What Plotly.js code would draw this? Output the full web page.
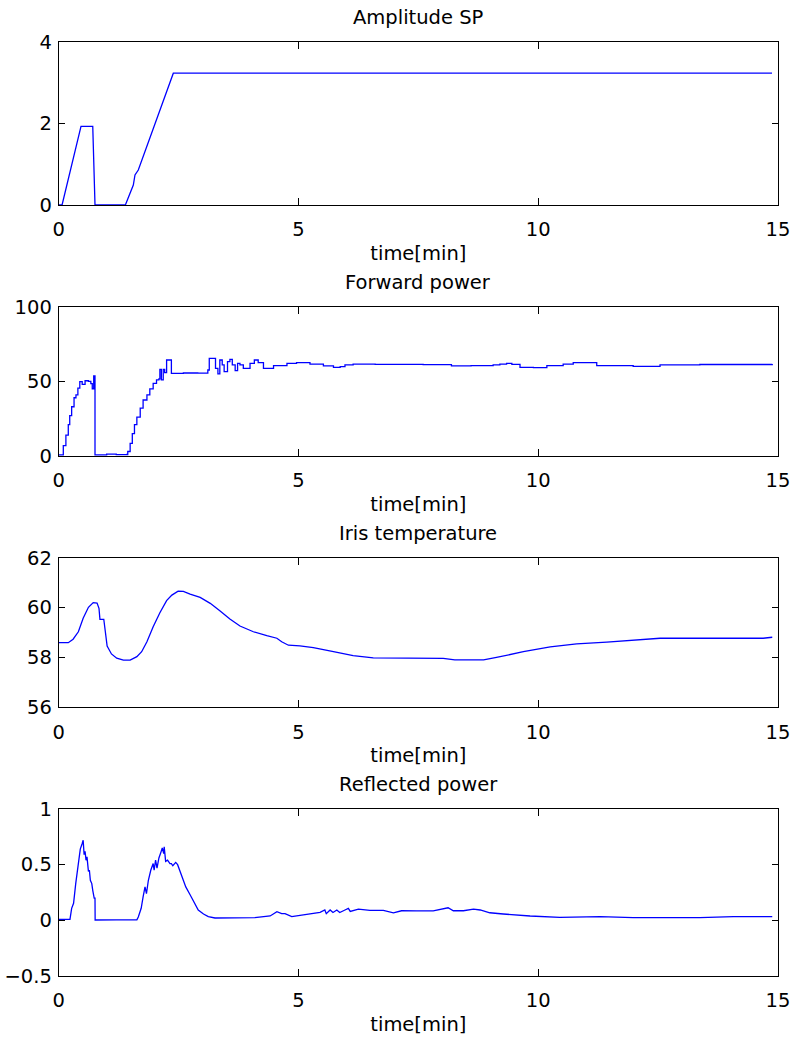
<!DOCTYPE html>
<html>
<head>
<meta charset="utf-8">
<script src="https://cdn.plot.ly/plotly-3.0.1.min.js"></script>
<style>
  html, body { margin: 0; padding: 0; background: #ffffff; }
  #chart { width: 796px; height: 1037px; }
</style>
</head>
<body>
<div id="chart"></div>
<script>
// Cavity conditioning run: four signals against time in minutes.

const panelTitles = ["Amplitude SP", "Forward power", "Iris temperature", "Reflected power"];
const timeLabel = "time[min]";
const timeTicks = [0, 5, 10, 15];

// Amplitude set point
const ampTime = [0, 0.07, 0.465, 0.71, 0.757, 1.39, 1.556, 1.591, 1.66, 2.39, 14.875];
const ampSP   = [0, 0, 1.935, 1.935, 0, 0, 0.49, 0.74, 0.86, 3.24, 3.24];
const ampTicks = [0, 2, 4];

// Forward power (sampled, held between samples)
const fwdTime = [0, 0.096, 0.15, 0.2, 0.23, 0.27, 0.32, 0.36, 0.40, 0.44, 0.49, 0.55, 0.62, 0.67, 0.70, 0.73,
  0.757, 1.0, 1.2, 1.42, 1.44, 1.49, 1.535, 1.58, 1.63, 1.70, 1.76, 1.84, 1.90, 1.97, 2.04, 2.09, 2.11, 2.14,
  2.18, 2.21, 2.25, 2.35, 2.6, 2.9, 3.11, 3.14, 3.16, 3.27, 3.32, 3.36, 3.41, 3.45, 3.52, 3.57, 3.62, 3.68,
  3.73, 3.78, 3.85, 3.99, 4.08, 4.16, 4.27, 4.48, 4.76, 4.96, 5.24, 5.52, 5.73, 5.87, 5.97, 6.14, 6.6, 7.12,
  7.6, 8.19, 8.6, 9.06, 9.2, 9.34, 9.45, 9.62, 9.9, 10.18, 10.52, 10.73, 11.22, 11.98, 12.54, 13.37, 14.63, 14.88];
const fwdPower = [0.7, 7, 14, 21, 27, 33, 39, 41, 45.5, 49.8, 48, 50.4, 50, 48.5, 45, 53.6,
  0.8, 1.2, 0.9, 1.0, 3, 8.5, 15, 21, 26, 32, 37.5, 41, 45, 48.7, 51, 51.7, 58, 51,
  58, 55.8, 64.3, 55.3, 55.6, 55.5, 57.6, 65.4, 65.4, 58.7, 55, 64.3, 61, 56.5, 63.2, 64.7, 61, 57.2,
  62, 61, 58.7, 62, 64.3, 62.5, 58.7, 60.5, 62, 62.5, 61.6, 60.3, 59.4, 59.8, 61, 61.6, 61.4, 61.4,
  61.2, 60.3, 60.5, 61, 61.6, 62, 61.4, 59.4, 59.2, 60.5, 61.6, 62.5, 60.5, 60, 61, 61.3, 61.3, 61.6];
const fwdTicks = [0, 50, 100];

// Iris temperature
const irisTime = [0, 0.2, 0.30, 0.41, 0.51, 0.62, 0.72, 0.80, 0.84, 0.86, 0.94, 0.97, 1.01, 1.10, 1.21, 1.35,
  1.49, 1.63, 1.73, 1.84, 1.97, 2.11, 2.25, 2.36, 2.49, 2.6, 2.74, 2.95, 3.16, 3.36, 3.57, 3.78, 4.06, 4.34,
  4.55, 4.65, 4.79, 5.03, 5.31, 5.73, 6.14, 6.56, 7.12, 8.02, 8.26, 8.86, 9.13, 9.69, 10.25, 10.80, 11.43,
  11.98, 12.54, 13.37, 14.69, 14.88];
const irisTemp = [58.59, 58.59, 58.73, 59.03, 59.57, 60.01, 60.2, 60.18, 59.97, 59.53, 59.53, 58.97, 58.46, 58.14, 57.97, 57.89,
  57.89, 58.03, 58.23, 58.63, 59.23, 59.79, 60.28, 60.5, 60.66, 60.65, 60.54, 60.41, 60.17, 59.87, 59.54, 59.26, 59.03, 58.87,
  58.77, 58.63, 58.49, 58.46, 58.39, 58.23, 58.07, 57.98, 57.97, 57.96, 57.9, 57.9, 58.0, 58.23, 58.42, 58.54, 58.61,
  58.7, 58.77, 58.77, 58.77, 58.81];
const irisTicks = [56, 58, 60, 62];

// Reflected power
const reflTime = [0, 0.235, 0.27, 0.31, 0.355, 0.41, 0.45, 0.49, 0.51, 0.53, 0.55, 0.57, 0.59, 0.62, 0.64, 0.66,
  0.69, 0.71, 0.74, 0.757, 0.76, 1.2, 1.63, 1.66, 1.72, 1.76, 1.80, 1.83, 1.87, 1.92, 1.97, 1.99, 2.02, 2.05,
  2.09, 2.13, 2.16, 2.19, 2.20, 2.23, 2.27, 2.32, 2.35, 2.38, 2.44, 2.48, 2.56, 2.65, 2.74, 2.83, 2.91, 3.02,
  3.12, 3.26, 3.57, 4.09, 4.41, 4.55, 4.65, 4.72, 4.86, 5.17, 5.45, 5.55, 5.58, 5.66, 5.72, 5.8, 5.86, 5.97,
  6.04, 6.08, 6.25, 6.49, 6.77, 6.98, 7.15, 7.46, 7.81, 8.12, 8.23, 8.44, 8.65, 8.79, 8.99, 9.27, 9.55, 9.83,
  10.45, 11.29, 11.98, 13.37, 14.07, 14.88];
const reflPower = [0.009, 0.009, 0.108, 0.153, 0.33, 0.53, 0.64, 0.69, 0.72, 0.59, 0.62, 0.54, 0.57, 0.44, 0.45, 0.36,
  0.33, 0.27, 0.2, 0.2, 0.003, 0.004, 0.004, 0.03, 0.108, 0.21, 0.3, 0.24, 0.36, 0.45, 0.51, 0.45, 0.54, 0.47,
  0.56, 0.61, 0.65, 0.6, 0.66, 0.53, 0.54, 0.51, 0.51, 0.49, 0.52, 0.5, 0.41, 0.3, 0.23, 0.153, 0.093, 0.057,
  0.033, 0.021, 0.024, 0.024, 0.039, 0.077, 0.06, 0.06, 0.033, 0.054, 0.072, 0.093, 0.06, 0.093, 0.07, 0.093, 0.07, 0.093,
  0.108, 0.08, 0.1, 0.09, 0.09, 0.068, 0.086, 0.085, 0.085, 0.113, 0.086, 0.086, 0.1, 0.093, 0.068, 0.057, 0.048, 0.039,
  0.027, 0.033, 0.024, 0.024, 0.033, 0.033];
const reflTicks = [-0.5, 0, 0.5, 1];

const lineColor = "#0000ff";
const fontFamily = "DejaVu Sans, Liberation Sans, Arial, sans-serif";
const fontSize = 19.5;

const series = [
  {x: ampTime,  y: ampSP,     shape: "linear", ticks: ampTicks,  range: [0, 4]},
  {x: fwdTime,  y: fwdPower,  shape: "hv",     ticks: fwdTicks,  range: [0, 100]},
  {x: irisTime, y: irisTemp,  shape: "linear", ticks: irisTicks, range: [56, 62]},
  {x: reflTime, y: reflPower, shape: "linear", ticks: reflTicks, range: [-0.5, 1]}
];

// vertical extent of each panel, in pixels from the top of the page
const H = 1037, W = 796;
const panelPx = [[42.3, 205], [306.7, 456], [557.7, 707.3], [809, 976]];
const xDomain = [58.7 / W, 778 / W];

const traces = [];
const layout = {
  width: W, height: H,
  margin: {l: 0, r: 0, t: 0, b: 0, pad: 0},
  paper_bgcolor: "#ffffff",
  plot_bgcolor: "#ffffff",
  showlegend: false,
  font: {family: fontFamily, size: fontSize, color: "#000000"},
  annotations: []
};

series.forEach((s, i) => {
  const n = i + 1;
  const sfx = n === 1 ? "" : String(n);
  const top = panelPx[i][0], bottom = panelPx[i][1];
  traces.push({
    type: "scatter", mode: "lines",
    x: s.x, y: s.y,
    xaxis: "x" + sfx, yaxis: "y" + sfx,
    line: {color: lineColor, width: 1.3, shape: s.shape},
    hoverinfo: "skip"
  });
  const common = {
    showline: true, linecolor: "#000000", linewidth: 1, mirror: "ticks",
    ticks: "inside", tickcolor: "#000000", tickwidth: 1,
    showgrid: false, zeroline: false, fixedrange: true,
    tickfont: {family: fontFamily, size: fontSize, color: "#000000"}
  };
  layout["xaxis" + sfx] = Object.assign({}, common, {
    domain: xDomain, range: [0, 15], anchor: "y" + sfx,
    tickmode: "array", tickvals: timeTicks, ticktext: timeTicks.map(String),
    ticklen: 7, ticklabelstandoff: 7,
    title: {text: timeLabel, font: {family: fontFamily, size: fontSize, color: "#000000"}, standoff: 5}
  });
  layout["yaxis" + sfx] = Object.assign({}, common, {
    domain: [1 - bottom / H, 1 - top / H], range: s.range, anchor: "x" + sfx,
    tickmode: "array", tickvals: s.ticks, ticktext: s.ticks.map(v => v < 0 ? "\u2212" + Math.abs(v) : String(v)),
    ticklen: 6, ticklabelstandoff: 2
  });
  layout.annotations.push({
    text: panelTitles[i], showarrow: false,
    xref: "paper", yref: "paper",
    x: (xDomain[0] + xDomain[1]) / 2, y: 1 - top / H,
    xanchor: "center", yanchor: "bottom", yshift: 11,
    font: {family: fontFamily, size: fontSize, color: "#000000"}
  });
});

Plotly.newPlot("chart", traces, layout, {displayModeBar: false, staticPlot: true});
</script>
</body>
</html>
